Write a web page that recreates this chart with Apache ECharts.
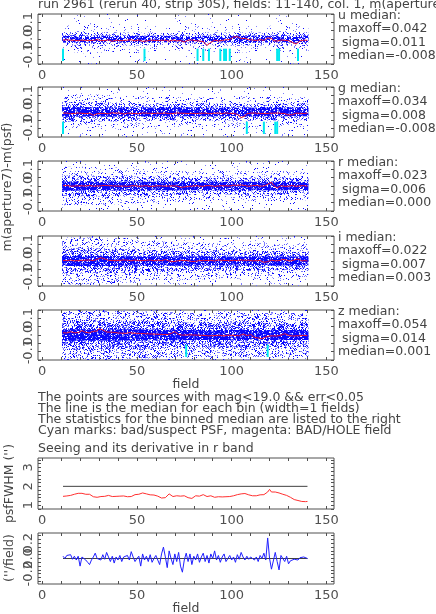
<!DOCTYPE html>
<html lang="en">
<head>
    <meta charset="UTF-8">
    <title>run 2961 aperture-psf QA</title>
    <style>
        html, body { margin: 0; padding: 0; background: #ffffff; }
        #chart { width: 436px; height: 614px; }
    </style>
</head>
<body>
<div id="chart"></div>
<script src="https://cdn.jsdelivr.net/npm/echarts@6/dist/echarts.min.js"></script>
<script>
    /* data */
    var bands = ['u', 'g', 'r', 'i', 'z'];
    var maxoffText = ['0.042', '0.034', '0.023', '0.022', '0.054'];
    var sigmaText = ['0.011', '0.008', '0.006', '0.007', '0.014'];
    var medianText = ['-0.008', '-0.008', '0.000', '0.003', '0.001'];

    var fields = [];
    for (var f = 11; f <= 140; f++) fields.push(f);
    var binEdges = [10.5, 20.5, 30.5, 40.5, 50.5, 60.5, 70.5, 80.5, 90.5, 100.5, 110.5, 120.5, 130.5, 140.5];

    var xTicks = [0, 50, 100, 150];
    var magTicks = [-0.1, 0, 0.1];
    var seeingTicks = [1, 2, 3];
    var derivTicks = [-0.2, 0, 0.2];

    // binned medians, milli-mag, fields 11..140
    var uMedian = [-6, -9, -5, -10, -7, -12, -8, -6, -9, -11, -7, -10, -8, -5, -9, -13, -8, -6, -4, -7,
        -9, -6, -10, -8, -5, -11, -14, -9, -7, -8, -10, -6, -9, -12, -7, -8, -5, -9, -11, -8,
        -6, -10, -14, -17, -12, -9, -7, -10, -8, -6, -9, -12, -8, -5, -7, -10, -13, -9, -6, -8,
        -11, -7, -9, -15, -18, -10, -7, -9, -6, -8, -10, -7, -12, -9, -16, -24, -38, -48, -20, -10,
        -7, -9, -12, -6, -8, -10, -5, -7, -3, 2, 12, 18, 14, 6, 2, -2, 4, 1, -4, -2,
        -6, -1, -9, -14, -4, 3, -8, -2, 6, 12, 4, -10, -22, -12, -3, -6, -1, -8, -4, -10,
        -14, -20, -26, -30, -18, -12, -9, -7, -10, -8];
    var gMedian = [-7, -9, -6, -8, -10, -7, -9, -8, -6, -10, -8, -7, -9, -11, -8, -14, -20, -16, -10, -7,
        -8, -6, -9, -7, -10, -8, -5, -9, -7, -8, -6, -9, -12, -8, -7, -10, -8, -6, -9, -7,
        -10, -8, -6, -9, -7, -11, -8, -6, -9, -8, -7, -10, -8, -9, -6, -8, -10, -7, -9, -8,
        -6, -9, -7, -10, -8, -6, -9, -11, -8, -7, -9, -6, -8, -10, -7, -9, -8, -6, -10, -8,
        -7, -9, -6, -8, -10, -7, -5, -8, -9, -6, -8, -10, -14, -22, -34, -42, -24, -10, -4, -7,
        -9, -6, -11, -8, -4, -10, -15, -9, -5, -8, -12, -7, -9, -6, -10, -8, -5, -9, -14, -18,
        -22, -16, -10, -7, -9, -8, -6, -9, -8, -7];
    var rMedian = [2, 0, 3, 1, -1, 2, 0, 3, 1, -2, 1, 3, 0, 2, 4, 1, -1, 2, 0, 3,
        1, 2, 4, 0, 2, -1, 1, 3, 0, 2, -1, 1, 0, 2, -2, 0, 1, -1, 2, 0,
        -2, 1, 0, -1, 2, 0, -3, 1, -1, 0, 1, -2, 0, 2, -1, 1, 0, -2, 1, 3,
        0, -3, -8, -12, -6, 0, -2, 1, -1, 0, 2, 0, -1, 1, -2, 0, 3, -1, 1, 0,
        -2, 1, 0, -1, 2, 4, 1, -2, 0, 3, 5, 9, 4, 12, 6, -1, 3, 0, -2, 1,
        2, 0, 4, 1, -1, 3, 0, 6, 10, 17, 22, 5, -6, -12, -4, 2, 0, -2, 1, -1,
        0, 3, 1, -2, 0, 1, -1, 2, 0, -1];
    var iMedian = [3, 5, 2, 4, 6, 3, 1, 4, 2, 5, 4, 2, 5, 3, 6, 4, 2, 7, 10, 14,
        20, 24, 12, 6, 4, 7, 3, 5, 2, 6, 4, 3, 6, 2, 5, 3, 1, 4, 6, 3,
        2, 5, 3, 0, 4, 2, 6, 3, 1, 4, 5, 3, 2, 6, 8, 4, 0, -2, -4, -3,
        0, 2, 4, 1, 3, 5, 2, 0, -3, -6, -2, 1, 3, 0, 2, 5, 3, 1, 4, 2,
        0, 3, 6, 2, 4, 1, 3, 5, 2, 0, 4, 7, 3, 1, 6, 9, 4, 2, 5, 3,
        1, 4, 2, 6, 3, 0, -8, -16, -4, 2, 5, 3, 1, 4, 2, 6, 10, 14, 5, 2,
        0, 3, 6, 9, 12, 4, 1, 3, 2, 0];
    var zMedian = [14, 18, 12, 16, 20, 15, 13, 17, 14, 19, 26, 20, 15, 18, 14, 17, 22, 30, 24, 38,
        50, 30, 22, 18, 15, 17, 13, 16, 14, 12, 15, 11, 13, 10, 12, 14, 9, 11, 8, 10,
        7, 9, 6, 8, 5, 7, 4, 6, 3, 5, 2, 4, 1, 3, 0, 2, 5, 9, 16, 20,
        8, 3, 1, -1, 2, 0, -2, 1, -1, 0, -3, -1, -4, -2, 0, -3, -1, -5, -2, -4,
        -1, -3, -5, -2, -4, -6, -3, -1, -4, -2, 0, -3, -1, -5, 2, 6, -2, -4, 0, 3,
        -6, -14, -26, -18, -8, -22, -28, -12, -4, -6, -3, -5, -2, -6, -4, -1, 2, 8, 3, -2,
        -4, -6, -3, -5, -2, -4, -6, -3, -5, -4];

    // spread of the points per 10-field bin, half-width in milli-mag:
    // solid core, half-dense zone, sparse zone; beyond that only rare outliers
    var uCore = [22, 22, 21, 21, 20, 20, 20, 20, 20, 22, 21, 22, 22];
    var uMid = [40, 42, 40, 38, 38, 36, 36, 38, 38, 40, 38, 40, 40];
    var uWide = [80, 85, 80, 75, 75, 70, 70, 75, 75, 80, 75, 80, 75];
    var gCore = [28, 28, 28, 27, 27, 26, 26, 26, 26, 27, 26, 26, 26];
    var gMid = [58, 58, 56, 54, 52, 50, 50, 50, 50, 52, 50, 50, 50];
    var gWide = [105, 105, 100, 95, 95, 90, 90, 90, 90, 95, 90, 90, 90];
    var rCore = [28, 28, 27, 27, 26, 26, 26, 26, 26, 26, 26, 26, 26];
    var rMid = [62, 62, 60, 58, 55, 52, 52, 50, 50, 50, 50, 50, 48];
    var rWide = [115, 115, 110, 105, 100, 95, 95, 90, 90, 90, 90, 90, 85];
    var iCore = [30, 30, 30, 29, 28, 28, 28, 27, 27, 27, 27, 27, 27];
    var iMid = [75, 75, 72, 70, 65, 62, 60, 60, 58, 58, 58, 55, 55];
    var iWide = [140, 140, 135, 130, 120, 115, 110, 110, 105, 105, 105, 100, 100];
    var zCore = [35, 35, 34, 34, 32, 31, 31, 30, 30, 30, 30, 30, 30];
    var zMid = [90, 90, 88, 85, 80, 78, 75, 75, 75, 75, 75, 72, 72];
    var zWide = [150, 150, 150, 145, 140, 135, 130, 130, 130, 130, 130, 130, 130];
    var outerSpread = [150, 150, 150, 150, 150, 150, 150, 150, 150, 150, 150, 150, 150];

    // cyan marks (bad/suspect PSF fields)
    var uCyan = [11, 54, 82, 85, 88, 94, 96, 97, 99, 124, 125, 135];
    var gCyan = [11, 108, 117, 123, 124];
    var rCyan = [];
    var iCyan = [];
    var zCyan = [76, 119];

    var seeing = [1.47, 1.46, 1.49, 1.50, 1.52, 1.55, 1.58, 1.60, 1.63, 1.66,
        1.63, 1.60, 1.58, 1.60, 1.58, 1.52, 1.45, 1.40, 1.42, 1.44,
        1.46, 1.43, 1.47, 1.50, 1.52, 1.48, 1.46, 1.50, 1.47, 1.45,
        1.48, 1.46, 1.49, 1.47, 1.45, 1.48, 1.46, 1.50, 1.56, 1.60,
        1.58, 1.62, 1.65, 1.62, 1.60, 1.57, 1.55, 1.52, 1.54, 1.50,
        1.48, 1.44, 1.38, 1.34, 1.40, 1.50, 1.60, 1.52, 1.46, 1.54,
        1.50, 1.58, 1.48, 1.42, 1.50, 1.46, 1.40, 1.45, 1.36, 1.42,
        1.50, 1.55, 1.48, 1.52, 1.56, 1.50, 1.46, 1.52, 1.50, 1.45,
        1.42, 1.47, 1.45, 1.40, 1.44, 1.48, 1.45, 1.43, 1.46, 1.44,
        1.50, 1.54, 1.56, 1.58, 1.60, 1.58, 1.62, 1.60, 1.55, 1.52,
        1.50, 1.47, 1.50, 1.52, 1.55, 1.53, 1.56, 1.55, 1.70, 1.84,
        1.70, 1.62, 1.70, 1.75, 1.65, 1.60, 1.58, 1.55, 1.52, 1.48,
        1.42, 1.35, 1.30, 1.27, 1.25, 1.22, 1.20, 1.19, 1.19, 1.20];
    var seeingDeriv = [0.03, 0.00, 0.04, 0.02, 0.05, -0.01, 0.03, -0.02, 0.03, -0.10,
        0.02, 0.04, -0.02, -0.05, -0.08, -0.02, 0.02, 0.07, 0.00, 0.02,
        -0.02, 0.05, -0.01, 0.08, 0.02, -0.04, 0.03, -0.06, 0.02, -0.02,
        0.04, -0.04, 0.02, 0.00, 0.04, -0.02, 0.09, 0.02, -0.04, 0.00,
        0.03, -0.10, 0.06, -0.02, 0.03, -0.04, 0.05, -0.05, 0.00, 0.04,
        -0.02, -0.08, 0.06, 0.15, 0.02, -0.12, 0.10, 0.00, -0.08, 0.06,
        -0.04, 0.08, -0.10, -0.18, -0.02, 0.07, -0.04, 0.06, -0.08, 0.03,
        -0.02, 0.06, -0.05, 0.02, 0.07, -0.04, 0.04, -0.06, 0.06, 0.00,
        0.10, -0.02, 0.04, -0.05, 0.02, 0.06, -0.04, 0.00, 0.04, -0.02,
        0.02, -0.05, 0.05, -0.01, 0.08, 0.02, -0.02, 0.03, -0.01, 0.02,
        0.00, -0.02, 0.02, -0.04, 0.04, 0.00, 0.07, -0.02, 0.27, 0.00,
        -0.14, -0.15, 0.08, -0.04, -0.15, 0.04, 0.02, -0.04, 0.03, -0.07,
        -0.03, -0.02, -0.01, 0.00, -0.02, 0.01, 0.00, 0.02, 0.00, 0.00];
    var seeingRef = 2.0;

    /* layout and style */
    var axisColor = '#505050';
    var textColor = '#444444';
    var fontFamily = '"DejaVu Sans", sans-serif';
    var textFont = '12.5px ' + fontFamily;
    var xMin = -2.2, xMax = 154;
    var gridLeft = 38, gridWidth = 296;
    var panelTop = [14, 87, 161, 236, 310];
    var panelHeight = 50;
    var cyanTop = -0.058, cyanBottom = -0.132;
    // dot coverage of each layer, per panel: outer, wide, mid, core
    var layerDensity = [
        [0.012, 0.06, 0.2, 0.6],
        [0.02, 0.1, 0.3, 0.75],
        [0.03, 0.12, 0.32, 0.8],
        [0.05, 0.15, 0.32, 0.8],
        [0.08, 0.2, 0.35, 0.8]
    ];
    var layerDark = [0.5, 0.5, 0.6, 0.85];

    var medians = [uMedian, gMedian, rMedian, iMedian, zMedian];
    var spreads = [
        [outerSpread, uWide, uMid, uCore],
        [outerSpread, gWide, gMid, gCore],
        [outerSpread, rWide, rMid, rCore],
        [outerSpread, iWide, iMid, iCore],
        [outerSpread, zWide, zMid, zCore]
    ];
    var cyans = [uCyan, gCyan, rCyan, iCyan, zCyan];

    // speckled texture used to fill the point clouds
    function speckle(density, dark, seed) {
        var c = document.createElement('canvas');
        c.width = 101;
        c.height = 103;
        var ctx = c.getContext('2d');
        var h = seed >>> 0;
        for (var y = 0; y < c.height; y++) {
            for (var x = 0; x < c.width; x++) {
                h = (Math.imul(h, 1664525) + 1013904223) >>> 0;
                if (h / 4294967296 < density) {
                    ctx.fillStyle = ((h >>> 12) & 255) / 256 < dark ? '#0a0aff' : '#7c7cff';
                    ctx.fillRect(x, y, 1, 1);
                }
            }
        }
        return {image: c, repeat: 'repeat'};
    }

    function tickList(min, max, step) {
        var out = [];
        for (var k = Math.ceil(min / step - 1e-9); k * step <= max + 1e-9; k++) {
            out.push(+(k * step).toFixed(6));
        }
        return out;
    }

    function bandRenderer(fill) {
        return function (params, api) {
            var a = api.coord([api.value(0), api.value(3)]);
            var b = api.coord([api.value(1), api.value(2)]);
            var cs = params.coordSys;
            var shape = echarts.graphic.clipRectByRect(
                {x: a[0], y: a[1], width: b[0] - a[0], height: b[1] - a[1]},
                {x: cs.x, y: cs.y, width: cs.width, height: cs.height});
            return shape && {type: 'rect', shape: shape, style: {fill: fill}};
        };
    }

    function cyanRenderer(params, api) {
        var a = api.coord([api.value(0), cyanTop]);
        var b = api.coord([api.value(0), cyanBottom]);
        return {
            type: 'line',
            shape: {x1: a[0], y1: a[1], x2: b[0], y2: b[1]},
            style: {stroke: '#00e8f0', lineWidth: 2}
        };
    }

    var grids = [], xAxes = [], yAxes = [], series = [], graphics = [];

    // one framed panel: bottom/top x axes and left/right y axes, ticks drawn inward.
    // the middle y label is given as the axis name (it overlaps its neighbours, as in the original)
    function addPanel(top, height, ymin, ymax, yMajor, yMinorStep, yFmt, midLabel) {
        var g = grids.length;
        grids.push({left: gridLeft, top: top, width: gridWidth, height: height, outerBoundsMode: 'none',
            show: true, borderColor: axisColor, borderWidth: 1, backgroundColor: 'transparent'});
        var xAll = tickList(0, 150, 10);
        var yAll = tickList(ymin, ymax, yMinorStep);
        var labelStyle = {color: axisColor, fontFamily: fontFamily, fontSize: 13};
        ['bottom', 'top'].forEach(function (pos) {
            xAxes.push({
                gridIndex: g, type: 'value', min: xMin, max: xMax, position: pos,
                axisLine: {show: false, onZero: false}, splitLine: {show: false},
                axisTick: {show: true, inside: true, length: 3, customValues: xAll,
                    lineStyle: {color: axisColor}},
                axisLabel: Object.assign({show: pos === 'bottom', customValues: xTicks, margin: 5,
                    showMinLabel: true, showMaxLabel: true}, labelStyle)
            });
        });
        ['left', 'right'].forEach(function (pos) {
            var isLeft = pos === 'left';
            var labelValues = midLabel == null ? yMajor : [yMajor[0], yMajor[yMajor.length - 1]];
            yAxes.push({
                gridIndex: g, type: 'value', min: ymin, max: ymax, position: pos,
                axisLine: {show: false, onZero: false}, splitLine: {show: false},
                axisTick: {show: true, inside: true, length: 3, customValues: yAll,
                    lineStyle: {color: axisColor}},
                axisLabel: Object.assign({show: isLeft, customValues: labelValues, rotate: 90, margin: 3,
                    showMinLabel: true, showMaxLabel: true, formatter: yFmt}, labelStyle),
                name: isLeft && midLabel != null ? midLabel : '',
                nameLocation: 'middle', nameRotate: 90, nameGap: 3, nameMoveOverlap: false,
                nameTextStyle: labelStyle
            });
        });
        return g;
    }

    var fmt1 = function (v) { return v.toFixed(1); };

    bands.forEach(function (band, p) {
        var g = addPanel(panelTop[p], panelHeight, -0.15, 0.15, magTicks, 0.05, fmt1, fmt1(magTicks[1]));
        spreads[p].forEach(function (spread, L) {
            var fill = speckle(layerDensity[p][L], layerDark[L], 17 + p * 31 + L * 997);
            var data = spread.map(function (hw, i) {
                return [binEdges[i], binEdges[i + 1], -hw / 1000, hw / 1000];
            });
            series.push({type: 'custom', xAxisIndex: 2 * g, yAxisIndex: 2 * g, silent: true,
                renderItem: bandRenderer(fill), data: data});
        });
        series.push({
            type: 'line', xAxisIndex: 2 * g, yAxisIndex: 2 * g, symbol: 'none', silent: true,
            lineStyle: {color: '#e8102c', width: 1},
            data: fields.map(function (fv, i) { return [fv, medians[p][i] / 1000]; })
        });
        if (cyans[p].length) {
            series.push({type: 'custom', xAxisIndex: 2 * g, yAxisIndex: 2 * g, silent: true,
                renderItem: cyanRenderer, data: cyans[p].map(function (fv) { return [fv]; })});
        }
        var t0 = panelTop[p] + 1.5;
        [band + ' median:', 'maxoff=' + maxoffText[p], ' sigma=' + sigmaText[p], 'median=' + medianText[p]]
            .forEach(function (s, k) {
                graphics.push({type: 'text', x: 338, y: t0 + 13.5 * k,
                    style: {text: s, fill: textColor, font: textFont, align: 'left', verticalAlign: 'middle'}});
            });
    });

    var gSee = addPanel(458, 51, 0.8, 3.5, seeingTicks, 0.2, function (v) { return String(v); }, null);
    series.push({type: 'line', xAxisIndex: 2 * gSee, yAxisIndex: 2 * gSee, symbol: 'none', silent: true,
        lineStyle: {color: '#404040', width: 1}, data: [[fields[0], seeingRef], [fields[fields.length - 1], seeingRef]]});
    series.push({type: 'line', xAxisIndex: 2 * gSee, yAxisIndex: 2 * gSee, symbol: 'none', silent: true,
        lineStyle: {color: '#ff3030', width: 1},
        data: fields.map(function (fv, i) { return [fv, seeing[i]]; })});

    var gDer = addPanel(533, 51, -0.335, 0.335, derivTicks, 0.05, fmt1, fmt1(derivTicks[1]));
    series.push({type: 'line', xAxisIndex: 2 * gDer, yAxisIndex: 2 * gDer, symbol: 'none', silent: true,
        lineStyle: {color: '#404040', width: 1}, data: [[fields[0], 0], [fields[fields.length - 1], 0]]});
    series.push({type: 'line', xAxisIndex: 2 * gDer, yAxisIndex: 2 * gDer, symbol: 'none', silent: true,
        lineStyle: {color: '#2020ff', width: 1},
        data: fields.map(function (fv, i) { return [fv, seeingDeriv[i]]; })});

    function addText(s, x, y, opts) {
        opts = opts || {};
        graphics.push({type: 'text', x: x, y: y, rotation: opts.rotation || 0,
            style: {text: s, fill: textColor, font: textFont,
                align: opts.align || 'left', verticalAlign: 'middle'}});
    }

    addText('run 2961 (rerun 40, strip 30S), fields: 11-140, col. 1, m(aperture7)-m(psf)', 38, 4.5);
    addText('m(aperture7)-m(psf)', 8, 187, {rotation: Math.PI / 2, align: 'center'});
    addText('field', 186, 385, {align: 'center'});
    addText('The points are sources with mag<19.0 && err<0.05', 38, 398);
    addText('The line is the median for each bin (width=1 fields)', 38, 409);
    addText('The statistics for the binned median are listed to the right', 38, 420);
    addText('Cyan marks: bad/suspect PSF, magenta: BAD/HOLE field', 38, 431);
    addText('Seeing and its derivative in r band', 38, 449);
    addText("psfFWHM ('')", 10, 483.5, {rotation: Math.PI / 2, align: 'center'});
    addText("(''/field)", 10, 558, {rotation: Math.PI / 2, align: 'center'});
    addText('field', 186, 609, {align: 'center'});

    var chart = echarts.init(document.getElementById('chart'));
    chart.setOption({
        animation: false,
        backgroundColor: '#ffffff',
        grid: grids,
        xAxis: xAxes,
        yAxis: yAxes,
        series: series,
        graphic: graphics
    });
</script>
</body>
</html>
